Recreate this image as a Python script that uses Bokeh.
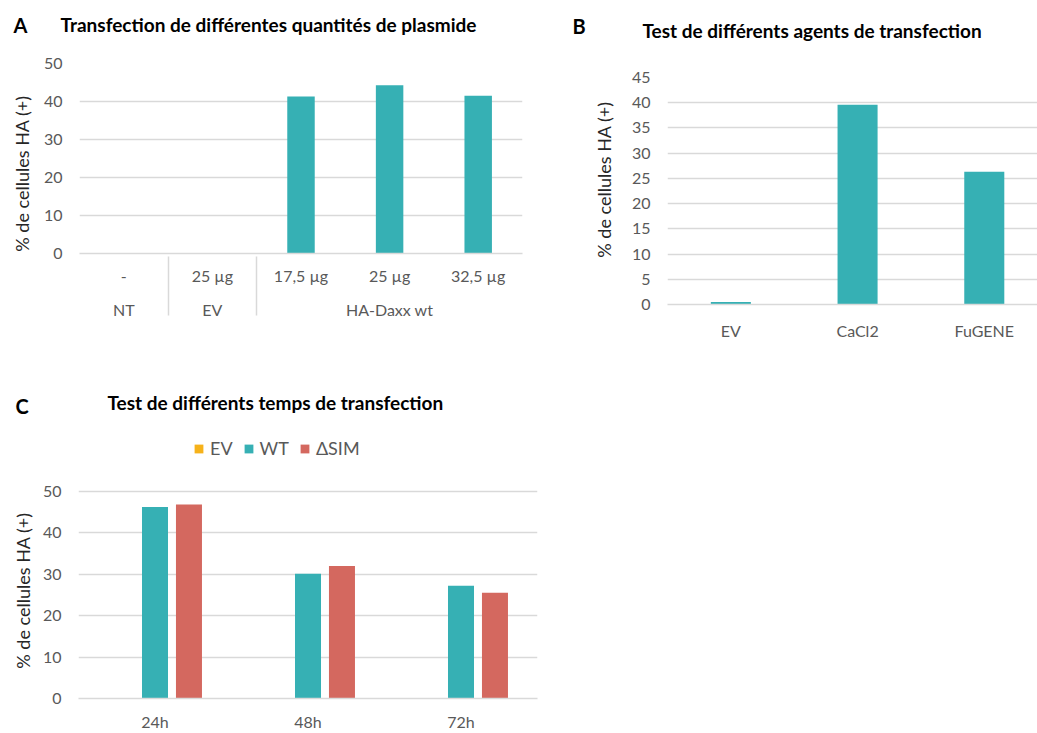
import math
from bokeh.plotting import figure
from bokeh.models import (FactorRange, Range1d, FixedTicker, Label, Legend, LegendItem,
                          ColumnDataSource)
from bokeh.transform import dodge
from bokeh.layouts import column, row
from bokeh.embed import file_html
from bokeh.resources import INLINE

# ---------------- data ----------------
a_groups = ["NT", "EV", "HA-Daxx wt", "HA-Daxx wt", "HA-Daxx wt"]
a_doses = ["-", "25 µg", "17,5 µg", "25 µg", "32,5 µg"]
a_values = [0, 0, 41.3, 44.3, 41.5]
a_yticks = [0, 10, 20, 30, 40, 50]

b_agents = ["EV", "CaCl2", "FuGENE"]
b_values = [0.5, 39.6, 26.3]
b_yticks = [0, 5, 10, 15, 20, 25, 30, 35, 40, 45]

c_times = ["24h", "48h", "72h"]
c_series = ["EV", "WT", "ΔSIM"]
c_ev = [0, 0, 0]
c_wt = [46.2, 30.1, 27.2]
c_dsim = [46.8, 32.0, 25.5]
c_yticks = [0, 10, 20, 30, 40, 50]

titles = ["Transfection de différentes quantités de plasmide",
          "Test de différents agents de transfection",
          "Test de différents temps de transfection"]
letters = ["A", "B", "C"]
ylabel = "% de cellules HA (+)"

# ---------------- style ----------------
TEAL = "#36B0B4"
RED = "#D4685F"
ORANGE = "#F6B21A"
GRID = "#D9D9D9"
TICK = "#595959"
LABEL = "#262626"
FONT = "Lato"


def style(p, yticks):
    p.frame_align = False
    p.outline_line_color = None
    p.xgrid.grid_line_color = None
    p.ygrid.grid_line_color = GRID
    p.ygrid.grid_line_width = 1.5
    p.yaxis.ticker = FixedTicker(ticks=yticks)
    p.yaxis.axis_line_color = None
    for ax in (p.xaxis[0], p.yaxis[0]):
        ax.major_tick_line_color = None
        ax.minor_tick_line_color = None
        ax.major_tick_out = 0
        ax.major_tick_in = 0
        ax.minor_tick_out = 0
        ax.major_label_text_font = FONT
        ax.major_label_text_font_size = "16px"
        ax.major_label_text_color = TICK
    p.yaxis.major_label_standoff = 17
    p.xaxis.axis_line_color = GRID
    p.xaxis.axis_line_width = 1.5


def canvas_text(p, side, x, y, text, size, bold=False, color="black", angle=0.0,
                align="left"):
    p.add_layout(Label(x=x, y=y, x_units="canvas", y_units="canvas", text=text,
                       text_font=FONT, text_font_size=size,
                       text_font_style="bold" if bold else "normal",
                       text_color=color, text_baseline="middle", text_align=align,
                       angle=angle), side)


def y_title(p, x, y):
    canvas_text(p, "left", x, y, ylabel, "18px", color=LABEL, angle=math.pi / 2,
                align="center")


# ---------------- panel A ----------------
a_factors = list(zip(a_groups, a_doses))
pA = figure(x_range=FactorRange(*a_factors, factor_padding=0, group_padding=0,
                                subgroup_padding=0, range_padding=0),
            y_range=Range1d(0, 50), width=540, height=342,
            output_backend="svg", toolbar_location=None,
            min_border_left=79, min_border_right=18, min_border_top=63, min_border_bottom=89)
pA.vbar(x=a_factors, top=a_values, width=0.31, fill_color=TEAL, line_color=None)
style(pA, a_yticks)
pA.xaxis.major_label_standoff = 12
pA.xaxis.group_text_font = FONT
pA.xaxis.group_text_font_size = "16px"
pA.xaxis.group_text_color = TICK
pA.xaxis.group_text_font_style = "normal"
pA.xaxis.separator_line_color = GRID
pA.xaxis.separator_line_width = 1.5
canvas_text(pA, "above", 13, 24, letters[0], "20px", bold=True)
canvas_text(pA, "above", 60, 24, titles[0], "19px", bold=True)
y_title(pA, 21.5, 173)

# ---------------- panel B ----------------
b_x = [i + 0.5 for i in range(len(b_agents))]
pB = figure(x_range=Range1d(0, 2.92), y_range=Range1d(0, 45), width=497, height=342,
            output_backend="svg", toolbar_location=None,
            min_border_left=127, min_border_right=0, min_border_top=77, min_border_bottom=37)
pB.vbar(x=b_x, top=b_values, width=0.316, fill_color=TEAL, line_color=None)
style(pB, b_yticks)
pB.xaxis.ticker = FixedTicker(ticks=b_x)
pB.xaxis.major_label_overrides = {x: lab for x, lab in zip(b_x, b_agents)}
pB.xaxis.major_label_standoff = 16
canvas_text(pB, "left", 32, 25, letters[1], "20px", bold=True)
canvas_text(pB, "above", 102, 30, titles[1], "19px", bold=True)
y_title(pB, 63, 179)

# ---------------- panel C ----------------
src = ColumnDataSource(dict(time=c_times, ev=c_ev, wt=c_wt, dsim=c_dsim))
pC = figure(x_range=FactorRange(*c_times, range_padding=0), y_range=Range1d(0, 65.64),
            width=560, height=391, output_backend="svg", toolbar_location=None,
            min_border_left=78, min_border_right=23, min_border_top=84, min_border_bottom=31)
r_ev = pC.vbar(x=dodge("time", -0.222, range=pC.x_range), top="ev", width=0.17, source=src,
               fill_color=ORANGE, line_color=None)
r_wt = pC.vbar(x=dodge("time", 0.0, range=pC.x_range), top="wt", width=0.17, source=src,
               fill_color=TEAL, line_color=None)
r_ds = pC.vbar(x=dodge("time", 0.222, range=pC.x_range), top="dsim", width=0.17, source=src,
               fill_color=RED, line_color=None)
style(pC, c_yticks)
pC.xaxis.major_label_standoff = 13
legend = Legend(items=[LegendItem(label=c_series[0], renderers=[r_ev]),
                       LegendItem(label=c_series[1], renderers=[r_wt]),
                       LegendItem(label=c_series[2], renderers=[r_ds])],
                orientation="horizontal", location=(115, 239),
                glyph_width=11, glyph_height=11, label_standoff=6, spacing=10,
                padding=0, margin=0, border_line_color=None, background_fill_alpha=0,
                label_text_font=FONT, label_text_font_size="18px", label_text_color=TICK,
                label_height=20)
pC.add_layout(legend, "center")
canvas_text(pC, "above", 15, 63, letters[2], "20px", bold=True)
canvas_text(pC, "above", 107, 60, titles[2], "19px", bold=True)
y_title(pC, 22, 248)

layout = column(row(pA, pB), pC)
open("out.html", "w").write(file_html(layout, INLINE))
